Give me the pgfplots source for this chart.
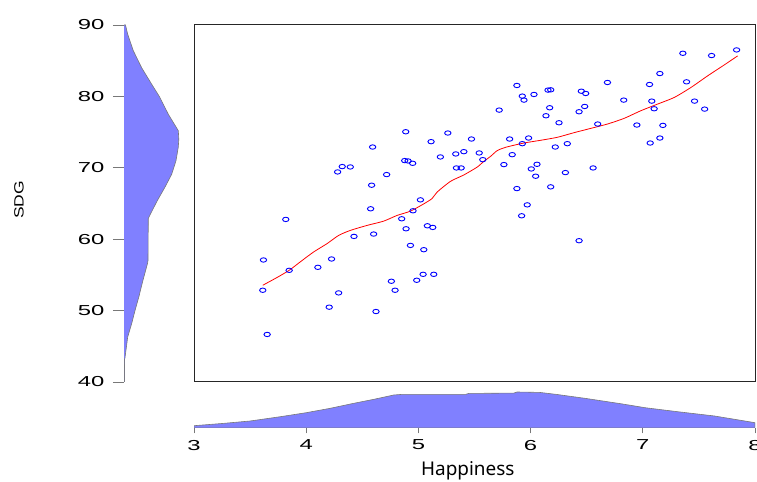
\documentclass[border=0pt]{standalone}
\usepackage{fontspec}
\setmainfont{Liberation Sans}
\newfontfamily\tickfont[FakeStretch=1.65]{Liberation Sans}
\newfontfamily\sdgfont[FakeStretch=1.3]{Liberation Sans}
\newfontfamily\labfont{Noto Sans}
\usepackage{pgfplots}
\pgfplotsset{compat=1.18}
\definecolor{dens}{RGB}{128,128,255}
\definecolor{axgray}{RGB}{120,120,120}

\pgfplotstableread{
x y
3.613 52.85
3.652 46.66
3.619 57.09
3.818 62.77
3.848 55.64
4.104 56.06
4.205 50.48
4.226 57.23
4.289 52.48
4.280 69.42
4.321 70.17
4.393 70.12
4.426 60.39
4.574 64.26
4.583 67.56
4.592 72.91
4.601 60.72
4.622 49.87
4.717 69.05
4.759 54.11
4.792 52.85
4.851 62.86
4.878 71.01
4.887 75.05
4.890 61.46
4.908 70.96
4.929 59.13
4.949 70.63
4.952 63.98
4.985 54.25
5.018 65.51
5.042 55.08
5.048 58.53
5.080 61.88
5.113 73.66
5.128 61.65
5.137 55.08
5.196 71.52
5.262 74.87
5.333 71.94
5.339 69.98
5.381 69.98
5.405 72.26
5.473 74.03
5.542 72.08
5.574 71.14
5.720 78.08
5.762 70.45
5.813 74.03
5.836 71.84
5.878 81.53
5.878 67.09
5.920 63.28
5.926 80.04
5.926 73.38
5.941 79.48
5.970 64.81
5.982 74.17
6.006 69.84
6.030 80.27
6.045 68.82
6.057 70.49
6.137 77.29
6.155 80.88
6.170 78.41
6.179 80.92
6.179 67.33
6.220 72.91
6.253 76.31
6.310 69.33
6.327 73.38
6.432 77.85
6.432 59.79
6.452 80.73
6.482 78.59
6.491 80.41
6.557 69.98
6.598 76.13
6.685 81.95
6.830 79.48
6.947 75.99
7.060 81.67
7.066 73.47
7.080 79.34
7.101 78.27
7.152 83.20
7.152 74.17
7.179 75.94
7.357 86.04
7.390 82.04
7.461 79.34
7.551 78.22
7.613 85.72
7.836 86.51
}\scatterdata

\pgfplotstableread{
x y
3.613 53.55
3.738 54.62
3.848 55.64
3.946 56.81
4.065 58.20
4.185 59.37
4.289 60.53
4.393 61.23
4.542 61.93
4.690 62.53
4.810 63.33
4.929 63.93
5.048 64.95
5.122 65.70
5.167 66.60
5.286 68.10
5.405 69.00
5.524 70.10
5.583 70.90
5.643 71.60
5.702 72.40
5.777 72.87
5.940 73.47
6.089 73.85
6.238 74.27
6.387 74.92
6.536 75.52
6.685 76.13
6.833 76.92
6.982 77.99
7.131 78.92
7.280 79.85
7.429 81.25
7.578 82.88
7.726 84.41
7.845 85.67
}\loessdata

\pgfplotstableread{
w y
0 40
0.3 43
1 43.4
3.7 46.3
7.7 48.2
11 50
15 52
18.5 54
23.5 56.6
24 57
24.3 62.9
26.7 63.6
33.3 65.4
41 67.3
47.7 69.1
52 71.0
54.3 72.9
54.8 74
54.3 75.2
44.3 77.5
35.3 80
27.7 81.7
17.7 84
9.3 86.4
3.7 88.7
1.5 90
0 90
}\ydens

\pgfplotstableread{
x h
3.0 0
3.0 2
3.26 4.3
3.5 6.7
3.77 11
4.0 15
4.21 19.3
4.42 24.3
4.6 28.3
4.78 32.7
4.85 33.3
5.42 33.3
5.45 34.3
5.85 34.6
5.88 35.7
6.08 35.3
6.23 33.3
6.49 29.3
6.82 23.7
7.02 20
7.31 16
7.64 11.7
8.0 5
8.0 0
}\xdens

\begin{document}
\begin{tikzpicture}
\useasboundingbox (0,0) rectangle (757bp,482bp);
% main scatter
\begin{axis}[at={(194bp,100bp)}, anchor=south west, scale only axis,
  width=561bp, height=357bp, xmin=3, xmax=8, ymin=40, ymax=90,
  xtick=\empty, ytick=\empty,
  axis line style={black!85, line width=1bp}]
\addplot[only marks, mark=o, color=blue, mark size=2.2bp,
  mark options={xscale=1.45, line width=0.9bp}] table[x=x,y=y] {\scatterdata};
\addplot[red, line width=0.8bp, no marks, smooth, tension=0.4] table[x=x,y=y] {\loessdata};
\end{axis}
% left density
\begin{axis}[at={(124bp,100bp)}, anchor=south west, scale only axis,
  width=60bp, height=357bp, xmin=0, xmax=60, ymin=40, ymax=90,
  axis x line=none, axis y line=left,
  y axis line style={-, draw=axgray, line width=0.8bp},
  ytick={40,50,...,90}, tick align=outside, major tick length=11bp,
  tick style={axgray, line width=0.8bp},
  /pgf/number format/assume math mode=true,
  yticklabel style={font=\tickfont\fontsize{14.5}{16}\selectfont, xshift=-5bp},
  ylabel={SDG},
  ylabel style={at={(axis description cs:-1.75,0.51)}, anchor=center,
    font=\sdgfont\fontsize{13.5}{15}\selectfont}]
\addplot[fill=dens, draw=axgray, line width=0.6bp] table[x=w,y=y] {\ydens};
\end{axis}
% bottom density
\begin{axis}[at={(194bp,54.3bp)}, anchor=south west, scale only axis,
  width=561bp, height=40bp, xmin=3, xmax=8, ymin=0, ymax=40,
  axis y line=none, axis x line=bottom,
  x axis line style={-, draw=axgray, line width=0.8bp},
  xtick={3,4,...,8}, tick align=outside, major tick length=5.7bp,
  tick style={axgray, line width=0.8bp},
  /pgf/number format/assume math mode=true,
  xticklabel style={font=\tickfont\fontsize{14.5}{16}\selectfont, yshift=-3bp},
  xlabel={Happiness},
  xlabel style={at={(axis description cs:0.488,0)}, anchor=center, yshift=-43bp,
    font=\labfont\fontsize{19}{21}\selectfont}]
\addplot[fill=dens, draw=axgray, line width=0.6bp] table[x=x,y=h] {\xdens};
\end{axis}
\end{tikzpicture}
\end{document}
